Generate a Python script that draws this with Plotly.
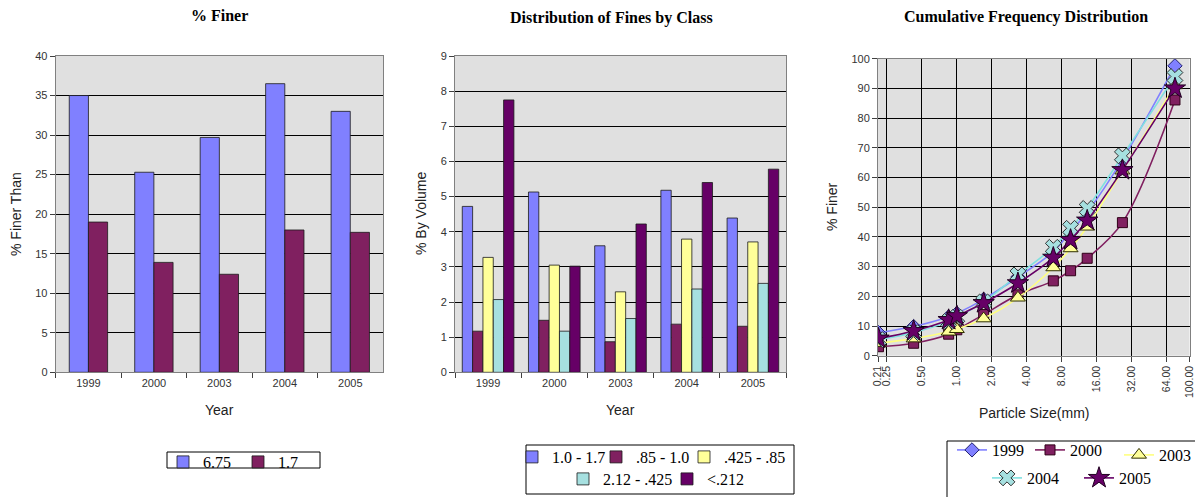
import plotly.graph_objects as go

# ---------------- data ----------------
years = ["1999", "2000", "2003", "2004", "2005"]
finer_675 = [35.0, 25.3, 29.7, 36.5, 33.0]
finer_17 = [19.0, 13.9, 12.4, 18.0, 17.7]

class_names = ["1.0 - 1.7", ".85 - 1.0", ".425 - .85", "2.12 - .425", "<.212"]
cls_10_17 = [4.72, 5.13, 3.60, 5.18, 4.39]
cls_085_10 = [1.17, 1.48, 0.87, 1.37, 1.31]
cls_0425_085 = [3.27, 3.05, 2.29, 3.79, 3.71]
cls_0212_0425 = [2.07, 1.17, 1.53, 2.37, 2.53]
cls_lt_0212 = [7.75, 3.02, 4.22, 5.40, 5.78]

sizes_mm = [0.212, 0.425, 0.85, 1.0, 1.7, 3.35, 6.75, 9.5, 13.2, 26.5, 75.0]
cum_1999 = [7.75, 9.82, 13.09, 14.26, 18.98, 26.5, 35.0, 41.8, 48.3, 66.0, 97.6]
cum_2000 = [3.02, 4.19, 7.24, 8.72, 13.85, 20.5, 25.2, 28.6, 32.8, 44.8, 86.1]
cum_2003 = [4.22, 5.75, 8.04, 8.91, 12.51, 19.5, 29.7, 36.1, 43.4, 62.3, 91.0]
cum_2004 = [5.40, 7.77, 11.56, 12.93, 18.11, 27.2, 36.5, 42.9, 49.6, 67.3, 94.0]
cum_2005 = [5.78, 8.31, 12.02, 13.33, 17.72, 24.4, 33.0, 39.0, 45.5, 62.5, 90.0]

size_ticks = [0.21, 0.25, 0.5, 1, 2, 4, 8, 16, 32, 64, 100]

# ---------------- helpers ----------------
W, H = 1195, 497


def px(x):
    return x / W


def py(y):
    return 1 - y / H


SERIF = "Liberation Serif"
SANS = "Liberation Sans, Arial"
PLOT_BG = "#E0E0E0"
OUTLINE = "#1a1a1a"
LEG_FONT = dict(family=SERIF, size=16, color="black")

fig = go.Figure()

# ---------------- left chart ----------------
fig.add_trace(go.Bar(x=years, y=finer_675, name="6.75", xaxis="x", yaxis="y",
                     marker=dict(color="#8080FF", line=dict(color=OUTLINE, width=0.8)),
                     offset=-0.293, width=0.293, legend="legend"))
fig.add_trace(go.Bar(x=years, y=finer_17, name="1.7", xaxis="x", yaxis="y",
                     marker=dict(color="#802060", line=dict(color=OUTLINE, width=0.8)),
                     offset=0.0, width=0.293, legend="legend2"))

# ---------------- middle chart ----------------
mid_series = [cls_10_17, cls_085_10, cls_0425_085, cls_0212_0425, cls_lt_0212]
mid_colors = ["#8080FF", "#802060", "#FFFF99", "#A6E0E0", "#660066"]
for i, (vals, name, col) in enumerate(zip(mid_series, class_names, mid_colors)):
    fig.add_trace(go.Bar(x=years, y=vals, name=name, xaxis="x2", yaxis="y2",
                         marker=dict(color=col, line=dict(color=OUTLINE, width=0.8)),
                         legend="legend%d" % (3 + i)))

# ---------------- right chart ----------------
cum_series = [cum_1999, cum_2000, cum_2003, cum_2004, cum_2005]
cum_names = years
cum_line = ["#8080FF", "#802060", "#FFFF80", "#80E0E0", "#660066"]
cum_fill = ["#8080FF", "#802060", "#FFFF99", "#A6E0E0", "#660066"]
cum_edge = ["#202070", "#300018", "#303000", "#303030", "#200020"]
cum_sym = ["diamond", "square", "triangle-up", "x", "star"]
cum_size = [11, 10, 13, 14, 16]
for i in range(5):
    fig.add_trace(go.Scatter(
        x=sizes_mm, y=cum_series[i], name=cum_names[i], xaxis="x3", yaxis="y3",
        mode="lines+markers",
        line=dict(color=cum_line[i], width=1.6, shape="spline", smoothing=1.0),
        marker=dict(symbol=cum_sym[i], size=cum_size[i], color=cum_fill[i],
                    line=dict(color=cum_edge[i], width=1)),
        legend="legend%d" % (8 + i)))

tickfont = dict(family=SANS, size=11, color="#333333")
axis_common = dict(showline=True, linecolor="#808080", linewidth=1, mirror=True,
                   tickfont=tickfont, ticks="outside", ticklen=5, tickcolor="#404040",
                   ticklabeloverflow="allow")


def leg(x, y):
    return dict(orientation="h", x=px(x), y=py(y), xanchor="left", yanchor="top",
                bgcolor="rgba(0,0,0,0)", borderwidth=0, font=LEG_FONT,
                itemwidth=30, traceorder="normal")


# one legend entry per legend box so every entry sits where the reference has it
legend_pos = [
    (163, 445), (238, 445),                              # left chart
    (512, 440), (596, 440), (684, 440),                  # middle row 1
    (563, 462), (667, 462),                              # middle row 2
    (952, 433), (1030, 433), (1119, 438),                # right row 1
    (987, 461), (1079, 461),                             # right row 2
]
legends = {}
for k, (lx, ly) in enumerate(legend_pos):
    legends["legend" if k == 0 else "legend%d" % (k + 1)] = leg(lx, ly)

fig.update_layout(
    width=W, height=H,
    margin=dict(l=0, r=0, t=0, b=0, autoexpand=False),
    paper_bgcolor="white", plot_bgcolor=PLOT_BG,
    barmode="group", bargap=0.22, bargroupgap=0,
    showlegend=True,
    xaxis=dict(domain=[px(55.7), px(383)], anchor="y", type="category",
               tickson="boundaries", showgrid=False, **axis_common),
    yaxis=dict(domain=[py(372.3), py(56)], anchor="x", range=[0, 40], dtick=5,
               showgrid=True, gridcolor="black", gridwidth=1, zeroline=False, **axis_common),
    xaxis2=dict(domain=[px(455), px(786)], anchor="y2", type="category",
                tickson="boundaries", showgrid=False, **axis_common),
    yaxis2=dict(domain=[py(372.3), py(56)], anchor="x2", range=[0, 9], dtick=1,
                showgrid=True, gridcolor="black", gridwidth=1, zeroline=False, **axis_common),
    xaxis3=dict(domain=[px(878), px(1189.5)], anchor="y3", type="log",
                range=[-0.677780705, 2.0], tickvals=size_ticks, tickformat=".2f",
                tickangle=-90, showgrid=True, gridcolor="black", gridwidth=1,
                **{**axis_common, "tickfont": dict(family=SANS, size=10.5, color="#333333")}),
    yaxis3=dict(domain=[py(355.7), py(58.7)], anchor="x3", range=[0, 100], dtick=10,
                showgrid=True, gridcolor="black", gridwidth=1, zeroline=False, **axis_common),
    **legends,
)

# legend frames
fig.add_shape(type="rect", xref="paper", yref="paper",
              x0=px(167), x1=px(320), y0=py(468), y1=py(452),
              line=dict(color="black", width=1), fillcolor="white", layer="below")
fig.add_shape(type="rect", xref="paper", yref="paper",
              x0=px(526), x1=px(794), y0=py(494), y1=py(445),
              line=dict(color="black", width=1), fillcolor="white", layer="below")
fig.add_shape(type="rect", xref="paper", yref="paper",
              x0=px(947), x1=px(1200), y0=py(505), y1=py(441),
              line=dict(color="black", width=1), fillcolor="white", layer="below")

# titles and axis titles
title_font = dict(family=SERIF, size=16, color="black")
axt_font = dict(family=SANS, size=14, color="#222222")
ann = [
    dict(text="<b>% Finer</b>", x=px(219), y=py(16), font=title_font),
    dict(text="<b>Distribution of Fines by Class</b>", x=px(611), y=py(18), font=title_font),
    dict(text="<b>Cumulative Frequency Distribution</b>", x=px(1026), y=py(17), font=title_font),
    dict(text="Year", x=px(219), y=py(410), font=axt_font),
    dict(text="Year", x=px(620), y=py(410), font=axt_font),
    dict(text="Particle Size(mm)", x=px(1034), y=py(413), font=axt_font),
    dict(text="% Finer Than", x=px(16), y=py(214), font=axt_font, textangle=-90),
    dict(text="% By Volume", x=px(421), y=py(214), font=axt_font, textangle=-90),
    dict(text="% Finer", x=px(832), y=py(206), font=axt_font, textangle=-90),
]
for a in ann:
    fig.add_annotation(xref="paper", yref="paper", showarrow=False,
                       xanchor="center", yanchor="middle", **a)

fig.write_html("out.html", config={"displayModeBar": False},
               post_script="document.body.style.margin='0';")
